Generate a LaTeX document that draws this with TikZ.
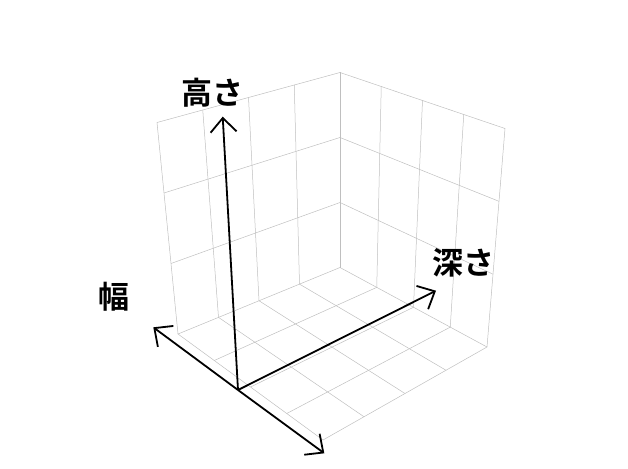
\documentclass[tikz,border=0pt]{standalone}
\usepackage{fontspec}
\newfontfamily\jpfont{Noto Sans CJK JP}[BoldFont={Noto Sans CJK JP Bold}]
\usetikzlibrary{arrows.meta,calc}

\tikzset{
  grid line/.style={draw=black!25, line width=0.5pt},
  axis arrow/.style={-{Straight Barb[length=14pt,width=26pt]}, line width=1.8pt},
  axis label/.style={font=\jpfont\bfseries\fontsize{31}{36}\selectfont, inner sep=0pt}
}

\begin{document}
\begin{tikzpicture}[x=1pt, y=-1pt]
        \useasboundingbox (0,0) rectangle (628,468);
        % Box corners
        \coordinate (LT) at (157,122.5);
        \coordinate (BT) at (340,72.5);
        \coordinate (RT) at (505,128.5);
        \coordinate (LB) at (178,334);
        \coordinate (BB) at (340,267.5);
        \coordinate (RB) at (487,347);
        \coordinate (F) at (323,440);

        % Grid
        \foreach \f in {0.25,0.5,0.75} {
            \draw[grid line] ($(LT)!\f!(BT)$) -- ($(LB)!\f!(BB)$);
            \draw[grid line] ($(BT)!\f!(RT)$) -- ($(BB)!\f!(RB)$);
            \draw[grid line] ($(BB)!\f!(RB)$) -- ($(LB)!\f!(F)$);
            \draw[grid line] ($(BB)!\f!(LB)$) -- ($(RB)!\f!(F)$);
        }
        \foreach \f in {0.3333,0.6667} {
            \draw[grid line] ($(LT)!\f!(LB)$) -- ($(BT)!\f!(BB)$) -- ($(RT)!\f!(RB)$);
        }
        \draw[grid line] (LB) -- (LT) -- (BT) -- (RT) -- (RB) -- (F) -- (LB) -- (BB) -- (RB);
        \draw[grid line] (BT) -- (BB);

        % Axis ends
        \coordinate (origin) at (238,390);
        \coordinate (height) at (222.7,116.7);
        \coordinate (depth) at (436,290.7);
        \coordinate (widthl) at (153.3,327.3);
        \coordinate (widthr) at (324.3,453.3);

        % Labels
        \node[axis label] (heightlabel) at (212.5,93) {高さ};
        \node[axis label] (depthlabel) at (463.5,263) {深さ};
        \node[axis label] (widthlabel) at (114,297) {幅};

        % Arrows
        \draw[axis arrow] (origin) -- (height);
        \draw[axis arrow] (origin) -- (depth);
        \draw[axis arrow] (origin) -- (widthl);
        \draw[axis arrow] (origin) -- (widthr);
    \end{tikzpicture}
\end{document}
